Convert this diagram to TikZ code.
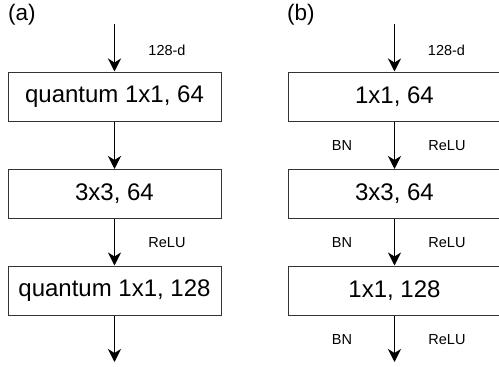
\documentclass[tikz,border=0pt]{standalone}
\usepackage{fontspec}
\setmainfont{Liberation Sans}
\usetikzlibrary{arrows.meta}
\begin{document}
\begin{tikzpicture}[x=1pt,y=-1pt,
  blk/.style={draw=black!80, line width=1pt, minimum width=213pt, minimum height=49pt, inner sep=0pt, font=\fontsize{24}{26}\selectfont},
  conn/.style={line width=1.8pt, -{Stealth[length=13pt,width=13pt,inset=4pt]}},
  lbl/.style={font=\fontsize{14.5}{16}\selectfont, inner sep=0pt},
  ttl/.style={font=\fontsize{22.5}{24}\selectfont, inner sep=0pt, anchor=west}]
\useasboundingbox (0,0) rectangle (499,367);
% column (a)
\node[ttl] (ta) at (8,15) {(a)};
\coordinate (a0) at (114.5,24);
\node[blk] (a1) at (114.5,96.5) {quantum 1x1, 64};
\node[blk] (a2) at (114.5,194) {3x3, 64};
\node[blk] (a3) at (114.5,290.5) {quantum 1x1, 128};
\coordinate (a4) at (114.5,362);
\draw[conn] (a0) -- (a1.north);
\draw[conn] (a1.south) -- (a2.north);
\draw[conn] (a2.south) -- (a3.north);
\draw[conn] (a3.south) -- (a4);
\node[lbl] (la1) at (167,50) {128-d};
\node[lbl] (la2) at (167,243) {ReLU};
% column (b)
\node[ttl] (tb) at (287,15) {(b)};
\coordinate (b0) at (394.5,24);
\node[blk] (b1) at (394.5,96.5) {1x1, 64};
\node[blk] (b2) at (394.5,194) {3x3, 64};
\node[blk] (b3) at (394.5,290.5) {1x1, 128};
\coordinate (b4) at (394.5,362);
\draw[conn] (b0) -- (b1.north);
\draw[conn] (b1.south) -- (b2.north);
\draw[conn] (b2.south) -- (b3.north);
\draw[conn] (b3.south) -- (b4);
\node[lbl] (lb0) at (446.5,50) {128-d};
\node[lbl] (lb1) at (342,146) {BN};
\node[lbl] (lb2) at (447,146) {ReLU};
\node[lbl] (lb3) at (342,243) {BN};
\node[lbl] (lb4) at (447,243) {ReLU};
\node[lbl] (lb5) at (342,340) {BN};
\node[lbl] (lb6) at (447,340) {ReLU};
\end{tikzpicture}
\end{document}
